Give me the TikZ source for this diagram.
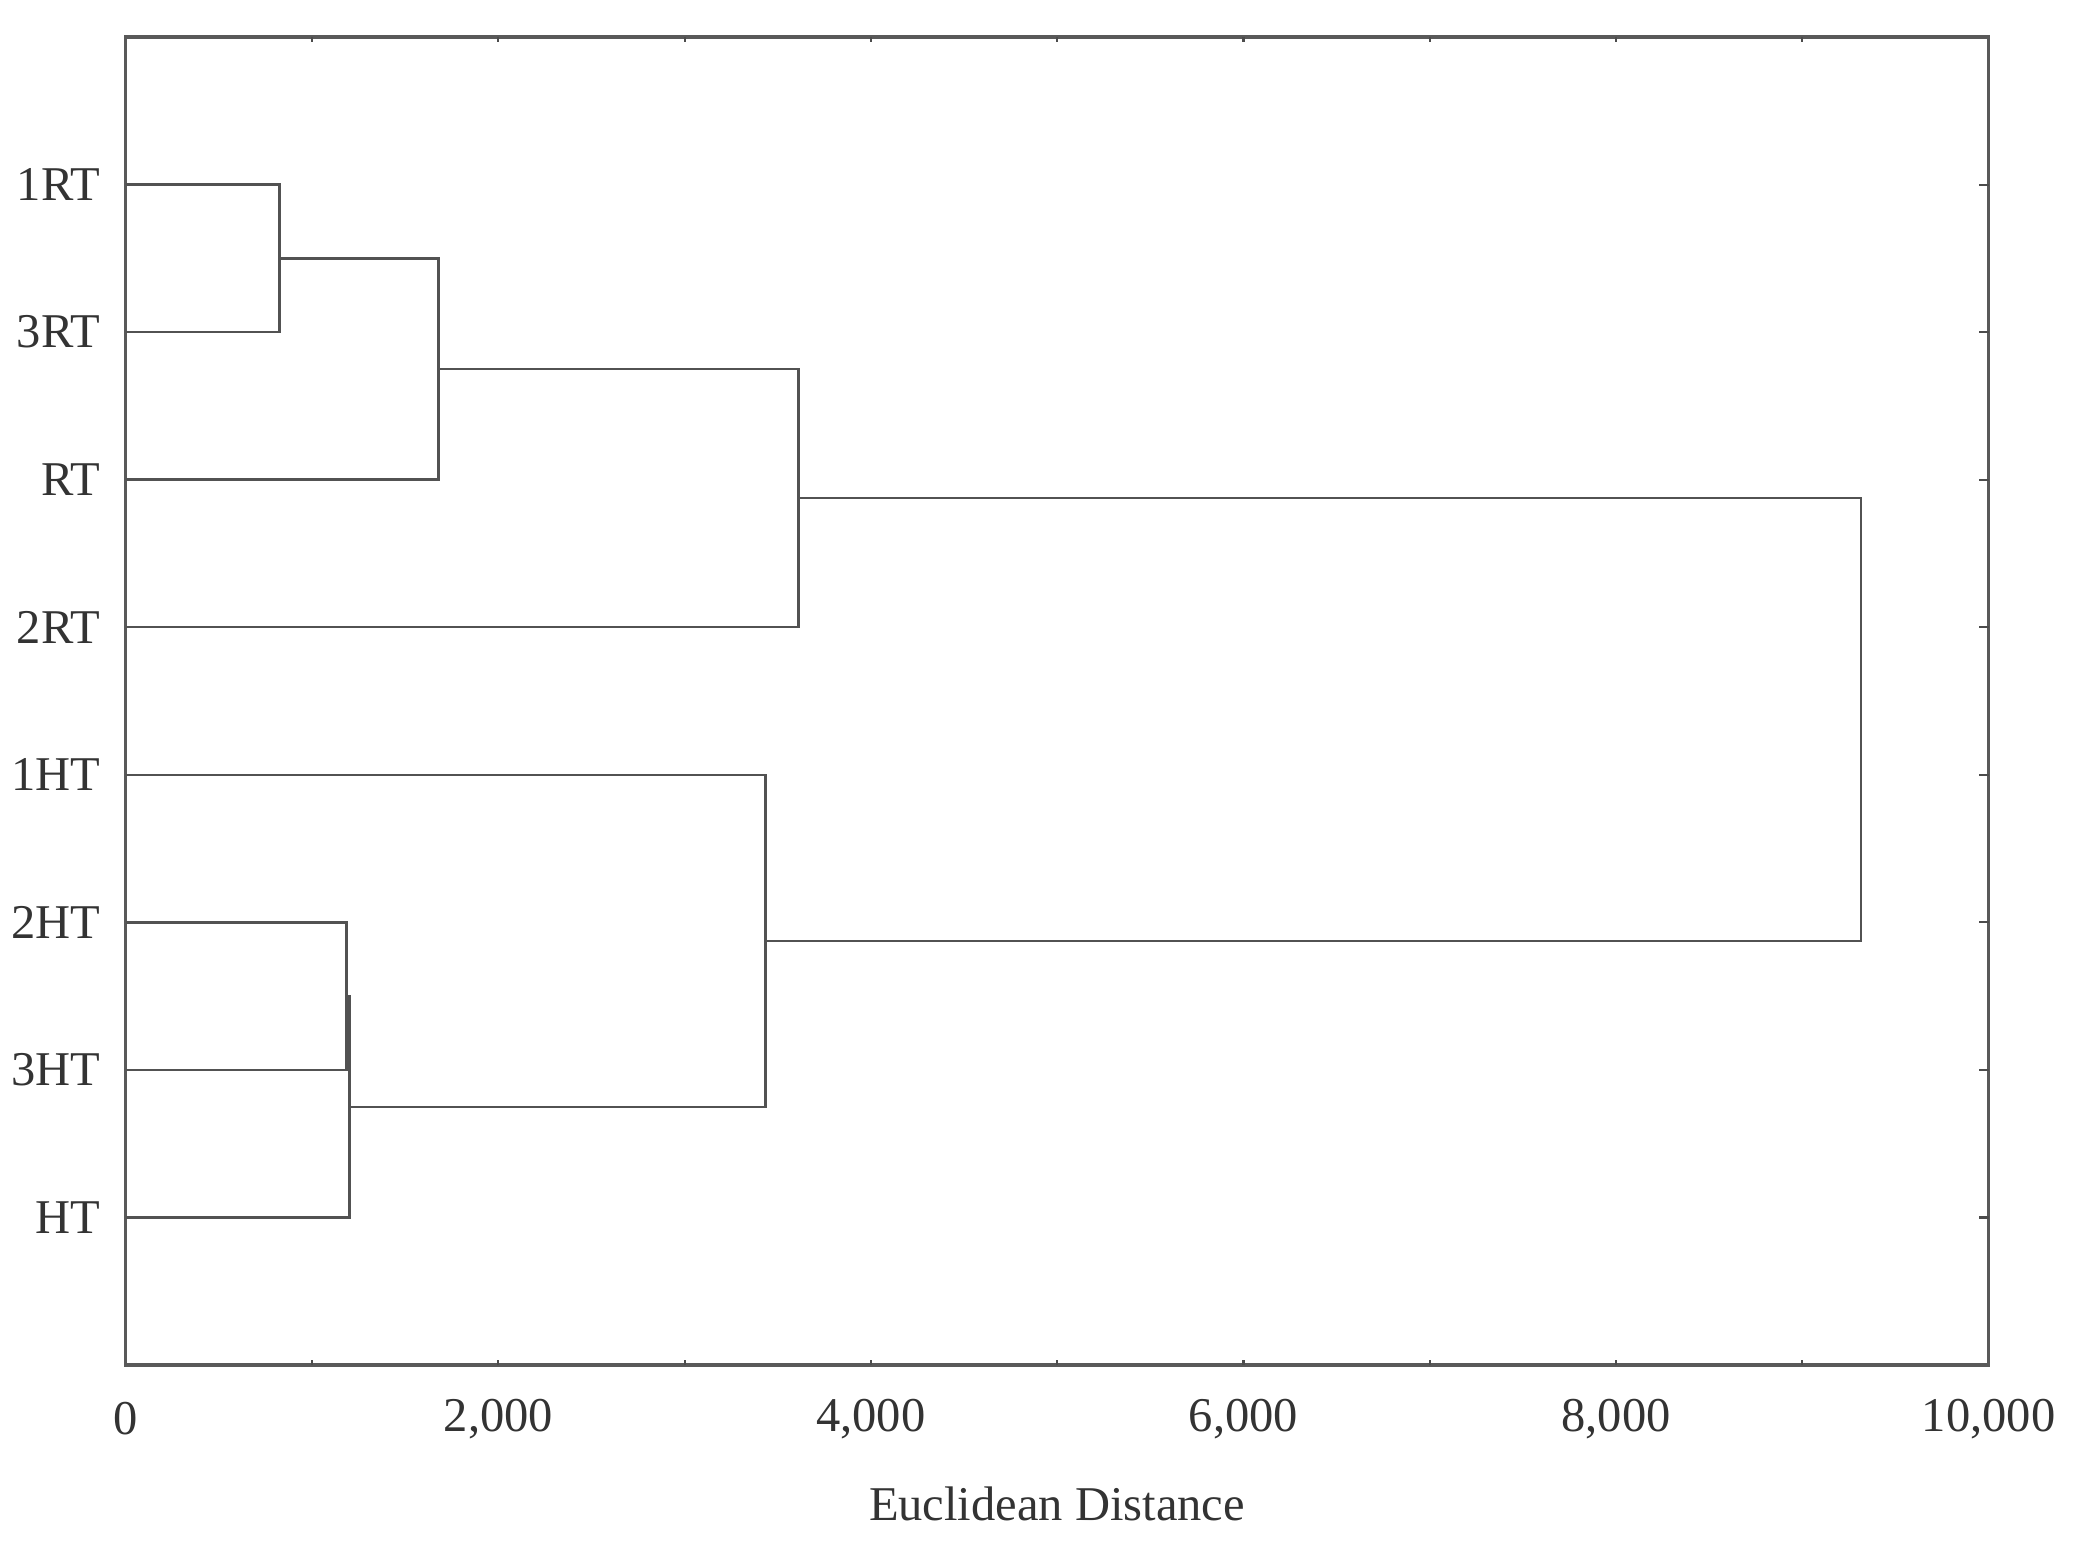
\documentclass[tikz,border=0pt]{standalone}
\usepackage{fontspec}
\setmainfont{Liberation Serif}
\begin{document}
\begin{tikzpicture}[x=0.01cm,y=-0.01cm,
  lbl/.style={anchor=east,inner sep=0pt,font=\fontsize{13.8}{15}\selectfont,text=black!80},
  ticklbl/.style={anchor=center,inner sep=0pt,font=\fontsize{13.8}{15}\selectfont,text=black!80},
  frame/.style={draw=black!65,line width=0.9pt},
  branch/.style={draw=black!68,line width=0.7pt},
  tickmark/.style={draw=black!70,line width=0.6pt}]
\useasboundingbox (0,0) rectangle (2076,1545);
% frame
\draw[frame] (125.8,37) rectangle (1988.6,1365);
% x ticks (every 1000, inward, top and bottom)
\foreach \d in {1,...,9}{
  \pgfmathsetmacro{\xx}{125.8+186.28*\d}
  \draw[tickmark] (\xx,1365) -- (\xx,1360);
  \draw[tickmark] (\xx,37) -- (\xx,42);
}
% right ticks at leaf positions
\foreach \k in {1,...,8}{
  \pgfmathsetmacro{\yy}{37+147.56*\k}
  \draw[tickmark] (1988.6,\yy) -- (1978.6,\yy);
}
% leaves
\coordinate (l1) at (125.8,184.6);
\coordinate (l2) at (125.8,332.1);
\coordinate (l3) at (125.8,479.7);
\coordinate (l4) at (125.8,627.2);
\coordinate (l5) at (125.8,774.8);
\coordinate (l6) at (125.8,922.4);
\coordinate (l7) at (125.8,1069.9);
\coordinate (l8) at (125.8,1217.5);
\node[lbl] (n1) at (101,184.6) {1RT};
\node[lbl] (n2) at (101,332.1) {3RT};
\node[lbl] (n3) at (101,479.7) {RT};
\node[lbl] (n4) at (101,627.2) {2RT};
\node[lbl] (n5) at (101,774.8) {1HT};
\node[lbl] (n6) at (101,922.4) {2HT};
\node[lbl] (n7) at (101,1069.9) {3HT};
\node[lbl] (n8) at (101,1217.5) {HT};
% merge points
\coordinate (m1) at (279.3,258.4);
\coordinate (m2) at (438.4,369.0);
\coordinate (m3) at (798.5,498.1);
\coordinate (m4) at (346.7,996.2);
\coordinate (m5) at (349.3,1106.8);
\coordinate (m6) at (765.3,940.8);
\coordinate (m7) at (1861.0,719.5);
% branches
\draw[branch] (l1) -| (m1) |- (l2);
\draw[branch] (m1) -| (m2) |- (l3);
\draw[branch] (m2) -| (m3) |- (l4);
\draw[branch] (l6) -| (m4) |- (l7);
\draw[branch] (m4) -| (m5) |- (l8);
\draw[branch] (l5) -| (m6) |- (m5);
\draw[branch] (m3) -| (m7) |- (m6);
% x tick labels
\node[ticklbl] (x0) at (125.8,1419) {0};
\node[ticklbl] (x1) at (498.4,1419) {2,000};
\node[ticklbl] (x2) at (870.9,1419) {4,000};
\node[ticklbl] (x3) at (1243.5,1419) {6,000};
\node[ticklbl] (x4) at (1616.0,1419) {8,000};
\node[ticklbl] (x5) at (1988.6,1419) {10,000};
\node[ticklbl] (xl) at (1057,1504) {Euclidean Distance};
\end{tikzpicture}
\end{document}
